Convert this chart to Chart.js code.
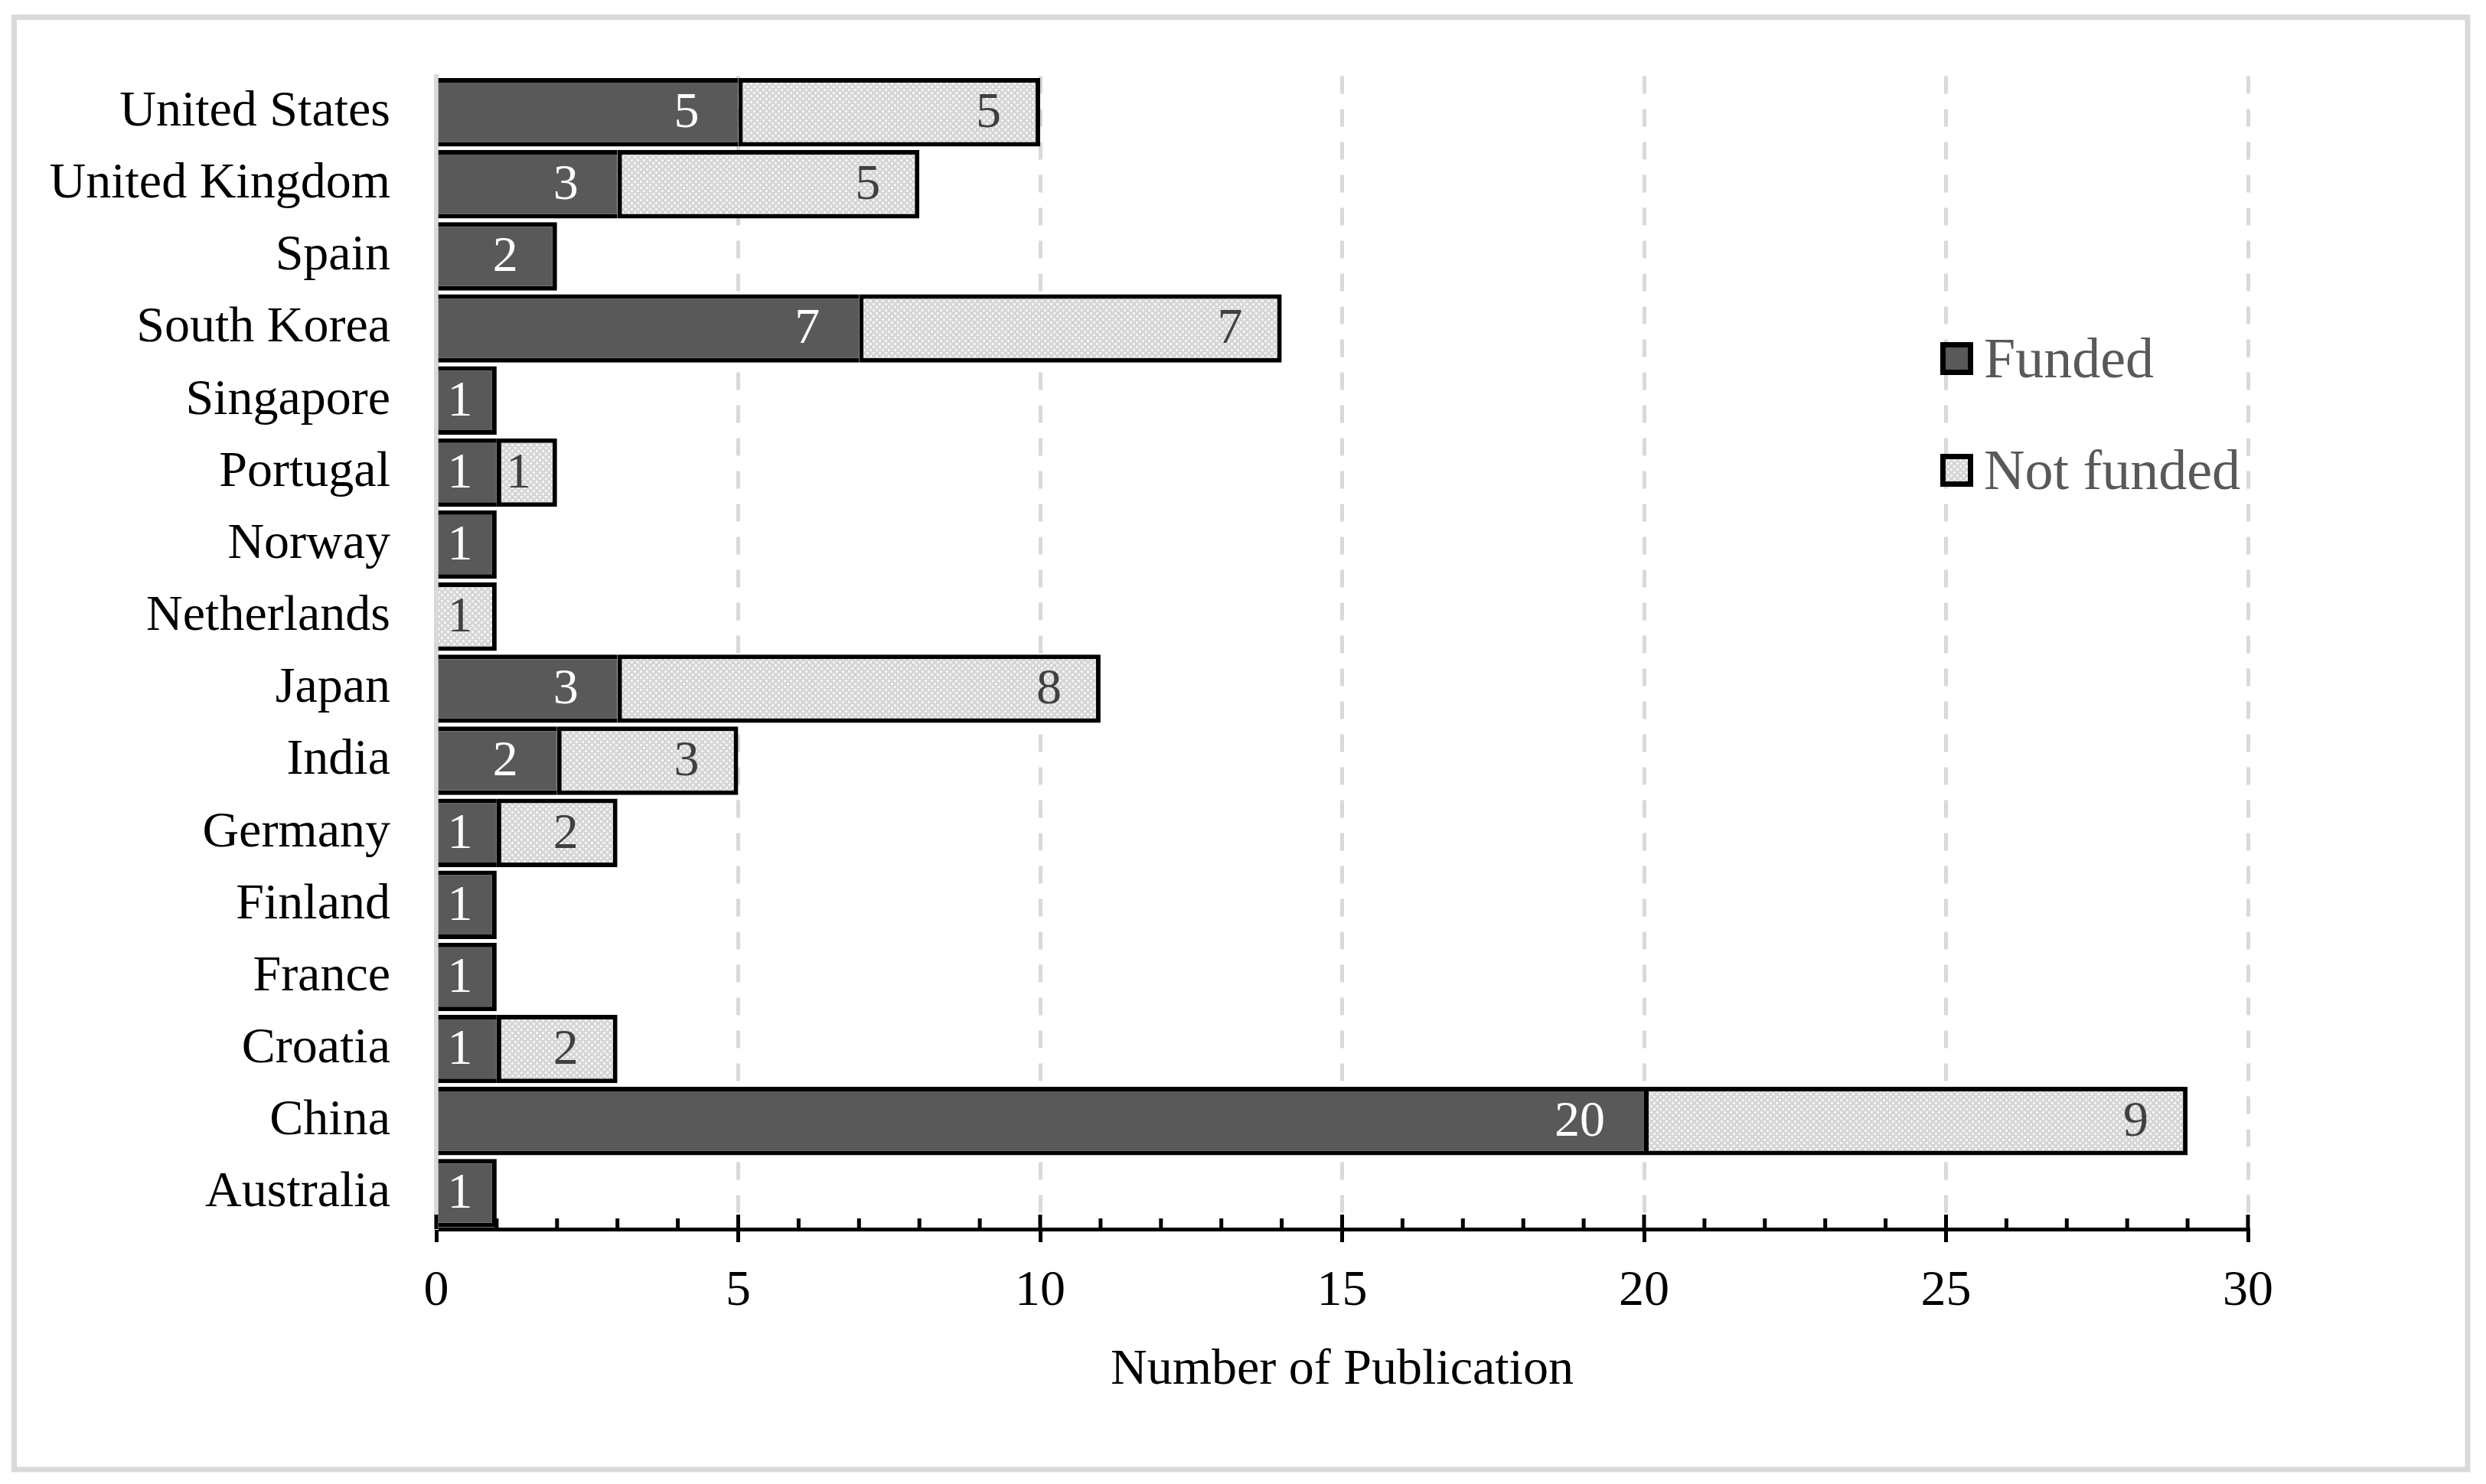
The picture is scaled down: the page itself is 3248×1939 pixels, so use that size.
<!DOCTYPE html>
<html>
<head>
<meta charset="utf-8">
<script src="https://cdn.jsdelivr.net/npm/chart.js@4.4.1/dist/chart.umd.min.js"></script>
<style>
    html, body { margin: 0; padding: 0; background: #fff; }
    #wrap { width: 3248px; height: 1939px; }
</style>
</head>
<body>
<div id="wrap"><canvas id="barChart" width="3248" height="1939"></canvas></div>
<script>
// categories, top to bottom as in the figure
const countries = ['United States', 'United Kingdom', 'Spain', 'South Korea', 'Singapore', 'Portugal', 'Norway',
    'Netherlands', 'Japan', 'India', 'Germany', 'Finland', 'France', 'Croatia', 'China', 'Australia'];
const funded = [5, 3, 2, 7, 1, 1, 1, 0, 3, 2, 1, 1, 1, 1, 20, 1];
const notFunded = [5, 5, 0, 7, 0, 1, 0, 1, 8, 3, 2, 0, 0, 2, 9, 0];
const seriesNames = ['Funded', 'Not funded'];
const xTicks = [0, 5, 10, 15, 20, 25, 30];

const FONT = '"Liberation Serif", "Times New Roman", serif';

document.addEventListener('DOMContentLoaded', function () {
    // light gray checker fill used by Excel for "Not funded"
    function makePattern() {
        let c = document.createElement('canvas');
        c.width = 8; c.height = 8;
        let g = c.getContext('2d');
        g.fillStyle = '#d6d6d6';
        g.fillRect(0, 0, 8, 8);
        g.fillStyle = '#f4f4f4';
        g.fillRect(0, 0, 3, 3);
        g.fillRect(4, 4, 3, 3);
        return g.createPattern(c, 'repeat');
    }
    const pattern = makePattern();

    // frame + white background
    const framePlugin = {
        id: 'frame',
        beforeDraw(chart) {
            let ctx = chart.ctx;
            ctx.save();
            ctx.fillStyle = '#fff';
            ctx.fillRect(0, 0, chart.width, chart.height);
            ctx.strokeStyle = '#d9d9d9';
            ctx.lineWidth = 7;
            ctx.strokeRect(18.5, 22.5, 3205.5, 1897.5);
            ctx.restore();
        }
    };

    // minor ticks and upper part of major ticks on the bottom axis
    const axisTicksPlugin = {
        id: 'axisTicks',
        afterDraw(chart) {
            let ctx = chart.ctx;
            let x = chart.scales.x;
            let bottom = chart.chartArea.bottom;
            ctx.save();
            ctx.strokeStyle = '#000';
            ctx.lineWidth = 5;
            ctx.beginPath();
            for (let v = x.min; v <= x.max; v++) {
                let px = x.getPixelForValue(v);
                let len = (v % 5 === 0) ? 19 : 14;
                ctx.moveTo(px, bottom - len);
                ctx.lineTo(px, bottom);
            }
            ctx.stroke();
            ctx.restore();
        }
    };

    // value labels inside the end of each bar
    const valueLabels = {
        id: 'valueLabels',
        afterDatasetsDraw(chart) {
            let ctx = chart.ctx;
            ctx.save();
            ctx.font = '66px ' + FONT;
            ctx.textBaseline = 'middle';
            ctx.textAlign = 'left';
            chart.data.datasets.forEach((ds, di) => {
                let meta = chart.getDatasetMeta(di);
                meta.data.forEach((bar, i) => {
                    let v = ds.data[i];
                    if (!v) return;
                    let txt = String(v);
                    let w = ctx.measureText(txt).width;
                    let left = Math.max(bar.x - 51 - w, bar.base + 12);
                    ctx.fillStyle = di === 0 ? '#ffffff' : '#404040';
                    ctx.fillText(txt, left, bar.y + 2);
                });
            });
            ctx.restore();
        }
    };

    // legend drawn inside the plot area, top right
    const innerLegend = {
        id: 'innerLegend',
        afterDraw(chart) {
            let ctx = chart.ctx;
            let bx = 2535, by = 447, size = 43, gap = 146;
            ctx.save();
            chart.data.datasets.forEach((ds, i) => {
                let y = by + i * gap;
                ctx.fillStyle = ds.backgroundColor;
                ctx.fillRect(bx, y, size, size);
                ctx.strokeStyle = '#000';
                ctx.lineWidth = 7;
                ctx.strokeRect(bx + 3.5, y + 3.5, size - 7, size - 7);
                ctx.fillStyle = '#595959';
                ctx.font = '74px ' + FONT;
                ctx.textBaseline = 'alphabetic';
                ctx.textAlign = 'left';
                ctx.fillText(ds.label, bx + 57, y + 46);
            });
            ctx.restore();
        }
    };

    let ctxBar = document.getElementById('barChart').getContext('2d');

    let barChart = new Chart(ctxBar, {
        type: 'bar',
        data: {
            labels: countries,
            datasets: [{
                label: seriesNames[0],
                data: funded,
                backgroundColor: '#595959',
                borderColor: '#000',
                borderSkipped: false,
                borderWidth: (c) => ({top: 6, bottom: 6, left: 0, right: notFunded[c.dataIndex] > 0 ? 0 : 6}),
                barPercentage: 0.95,
                categoryPercentage: 1
            }, {
                label: seriesNames[1],
                data: notFunded,
                backgroundColor: pattern,
                borderColor: '#000',
                borderSkipped: false,
                borderWidth: (c) => ({top: 6, bottom: 6, left: funded[c.dataIndex] > 0 ? 6 : 0, right: 6}),
                barPercentage: 0.95,
                categoryPercentage: 1
            }]
        },
        options: {
            indexAxis: 'y',
            responsive: false,
            animation: false,
            layout: {padding: {top: 84, right: 311, bottom: 0, left: 0}},
            plugins: {
                legend: {display: false},
                tooltip: {enabled: false}
            },
            scales: {
                x: {
                    stacked: true,
                    min: 0,
                    max: 30,
                    afterBuildTicks: (s) => { s.ticks = xTicks.map(v => ({value: v})); },
                    afterFit: (s) => { s.height = 1939 - 1606; },
                    ticks: {
                        color: '#000',
                        font: {family: FONT, size: 66},
                        padding: 25
                    },
                    grid: {
                        color: (c) => c.tick && c.tick.value === 0 ? 'rgba(0,0,0,0)' : '#d9d9d9',
                        lineWidth: 5,
                        tickColor: '#000',
                        tickWidth: 5,
                        tickLength: 17
                    },
                    border: {color: '#000', width: 5, dash: [23, 20]},
                    title: {
                        display: true,
                        text: 'Number of Publication',
                        color: '#000',
                        font: {family: FONT, size: 66},
                        padding: {top: 0, bottom: 109}
                    }
                },
                y: {
                    stacked: true,
                    afterFit: (s) => { s.width = 570; },
                    ticks: {
                        color: '#000',
                        font: {family: FONT, size: 66},
                        padding: 60
                    },
                    grid: {display: false, drawTicks: false},
                    border: {color: '#d9d9d9', width: 6}
                }
            }
        },
        plugins: [framePlugin, axisTicksPlugin, valueLabels, innerLegend]
    });
});
</script>
</body>
</html>
